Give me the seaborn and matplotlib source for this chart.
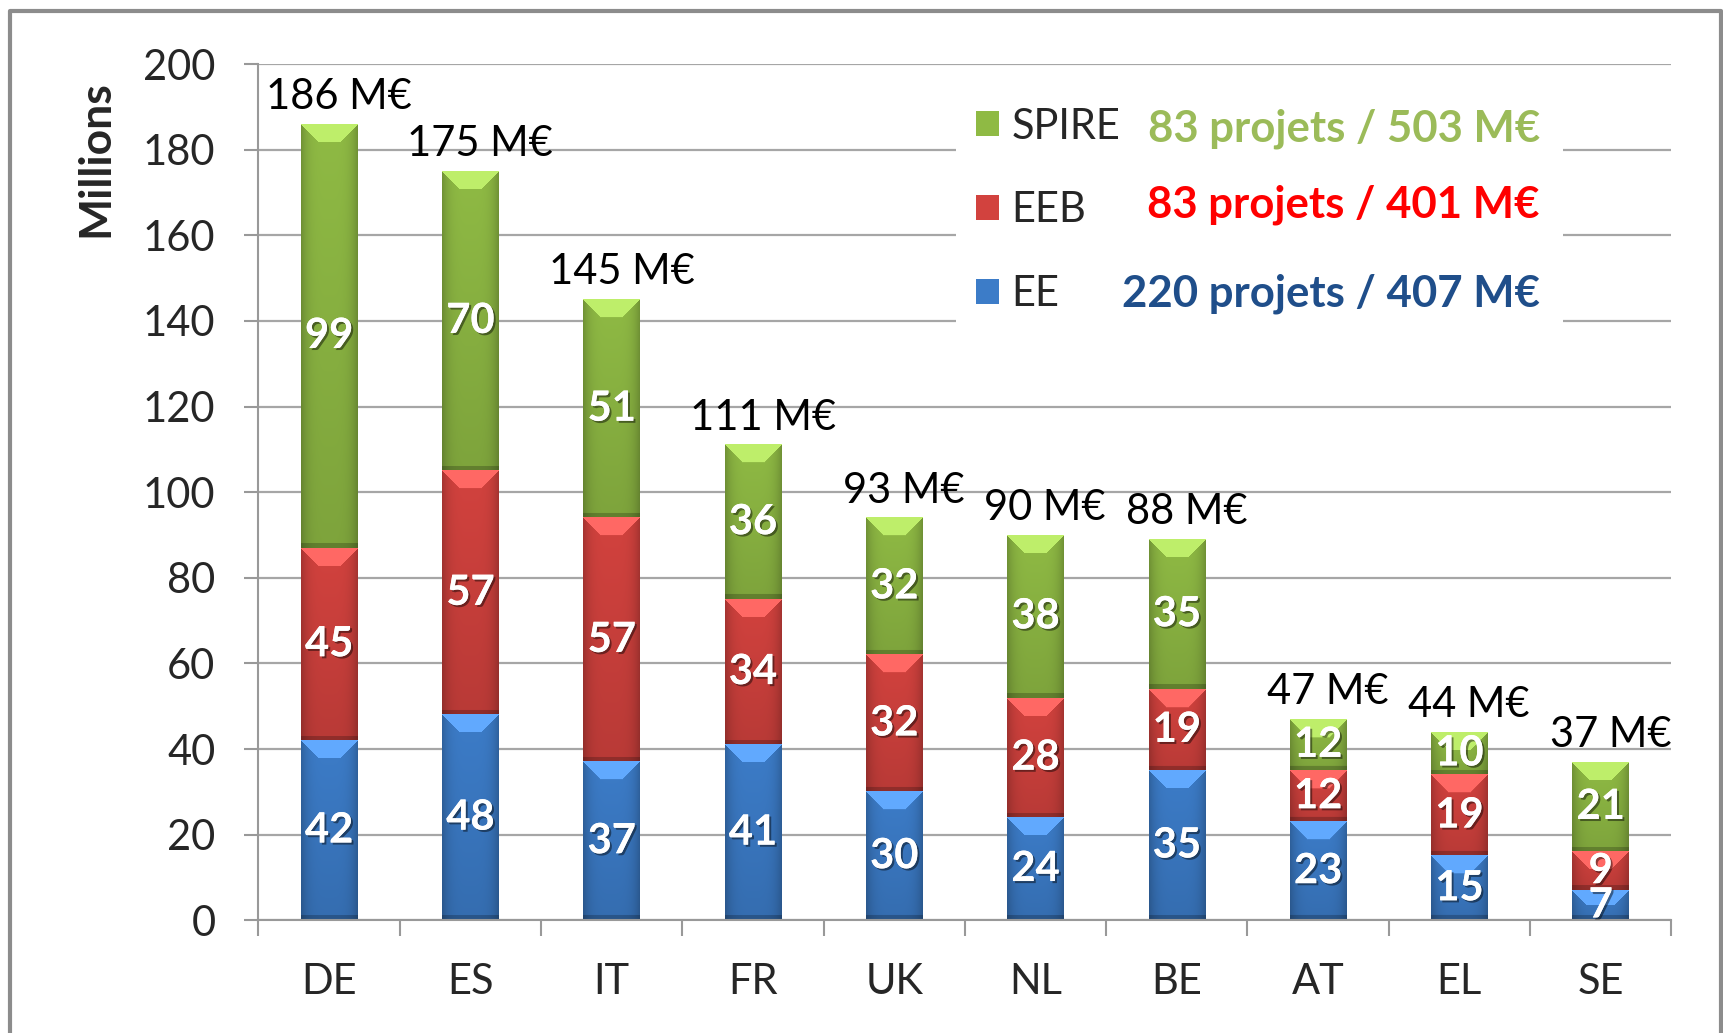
import numpy as np
import pandas as pd
import seaborn as sns
import matplotlib.pyplot as plt
import matplotlib.patheffects as pe
from matplotlib.colors import to_rgb
from matplotlib.lines import Line2D
from matplotlib.patches import Patch, Rectangle

# data (millions of euros)
countries = ["DE", "ES", "IT", "FR", "UK", "NL", "BE", "AT", "EL", "SE"]
ee = [42, 48, 37, 41, 30, 24, 35, 23, 15, 7]
eeb = [45, 57, 57, 34, 32, 28, 19, 12, 19, 9]
spire = [99, 70, 51, 36, 32, 38, 35, 12, 10, 21]
totals = [186, 175, 145, 111, 93, 90, 88, 47, 44, 37]

series_names = ["EE", "EEB", "SPIRE"]
series_summary = ["220 projets / 407 M€", "83 projets / 401 M€", "83 projets / 503 M€"]
summary_colors = ["#1F4E8A", "#FF0000", "#9BBB59"]
bar_colors = ["#3C7CC8", "#D2423E", "#8FBA44"]
y_ticks = list(range(0, 201, 20))

sns.set_style("white")
plt.rcParams["font.family"] = ["Lato", "DejaVu Sans"]

fig, ax = plt.subplots(figsize=(17.23, 10.33), dpi=100)
fig.subplots_adjust(left=0.150, right=0.970, bottom=0.109, top=0.938)

df = pd.DataFrame({"country": countries, "EE": ee, "EEB": eeb, "SPIRE": spire})
df["cum_EE"] = df["EE"]
df["cum_EEB"] = df["EE"] + df["EEB"]
df["cum_SPIRE"] = df["cum_EEB"] + df["SPIRE"]

# draw back to front: each layer hides the lower part of the previous one
for name, color in zip(series_names[::-1], bar_colors[::-1]):
    sns.barplot(data=df, x="country", y="cum_" + name, color=color,
                saturation=1, width=0.4, linewidth=0, ax=ax)

ax.set_xlim(-0.5, len(countries) - 0.5)
ax.set_ylim(0, 200)


def shade(patch, lo, hi, color):
    # bevelled look like the office chart: light top, darker sides and bottom
    x0 = patch.get_x()
    w = patch.get_width()
    px0, py0 = ax.transData.transform((x0, lo))
    px1, py1 = ax.transData.transform((x0 + w, hi))
    W = max(int(round(px1 - px0)), 2)
    H = max(int(round(py1 - py0)), 2)
    base = np.array(to_rgb(color))
    xx = (np.arange(W) + 0.5) / W
    side = 1 - 0.22 * np.abs(2 * xx - 1) ** 4
    vert = 1 - 0.12 * (np.arange(H) / H)
    img = np.ones((H, W, 3)) * base
    img *= (vert[:, None] * side[None, :])[..., None]
    light = np.clip(base * 1.12 + 0.12, 0, 1)
    d = min(18, H // 2)
    for r in range(d):
        img[r, r:W - r] = light
    nb = min(5, H // 4)
    if nb > 0:
        img[H - nb:] *= 0.78
    ax.imshow(np.clip(img, 0, 1), extent=(x0, x0 + w, lo, hi), aspect="auto",
              interpolation="bilinear", zorder=2)


n = len(countries)
layers = [("SPIRE", df["cum_EEB"], df["cum_SPIRE"], spire, bar_colors[2]),
          ("EEB", df["cum_EE"], df["cum_EEB"], eeb, bar_colors[1]),
          ("EE", [0] * n, df["cum_EE"], ee, bar_colors[0])]
shadow = [pe.withSimplePatchShadow(offset=(1.5, -1.5), shadow_rgbFace="black", alpha=0.45),
          pe.Normal()]
for k, (name, lows, highs, vals, color) in enumerate(layers):
    for j in range(n):
        patch = ax.patches[k * n + j]
        lo, hi = lows[j], highs[j]
        shade(patch, lo, hi, color)
        cx = patch.get_x() + patch.get_width() / 2
        ax.text(cx, (lo + hi) / 2, str(vals[j]), ha="center", va="center",
                color="white", fontsize=30, fontweight="bold", zorder=4,
                path_effects=shadow)

ax.set_xlim(-0.5, len(countries) - 0.5)
ax.set_ylim(0, 200)

# totals above the bars
for j in range(n):
    patch = ax.patches[j]
    cx = patch.get_x() + patch.get_width() / 2
    ax.annotate(f"{totals[j]} M€", (cx, df["cum_SPIRE"][j]), xytext=(7, 6),
                textcoords="offset points", ha="center", va="bottom",
                fontsize=30, color="black", zorder=5)

# axes styling
ax.set_axisbelow(True)
ax.yaxis.grid(True, color="#a6a6a6", linewidth=1.6)
ax.xaxis.grid(False)
sns.despine(ax=ax)
for side_name in ["left", "bottom"]:
    ax.spines[side_name].set_color("#999999")
    ax.spines[side_name].set_linewidth(1.5)

ax.set_yticks(y_ticks)
ax.tick_params(axis="y", left=True, length=10, width=1.5, color="#999999",
               pad=21, labelsize=30, direction="out")
ax.set_xticks(np.arange(-0.5, n, 1), minor=True)
ax.tick_params(axis="x", which="major", length=0, pad=31, labelsize=30)
ax.tick_params(axis="x", which="minor", bottom=True, length=11.5, width=1.5,
               color="#999999", direction="out")
ax.set_xlabel("")
ax.set_ylabel("Millions", fontsize=32, fontweight="bold")
ax.yaxis.set_label_coords(-0.101, 0.890)

# legend block with its white background and the per-programme summary
ax.add_patch(Rectangle((0.494, 0.65), 0.429, 0.30, transform=ax.transAxes,
                       facecolor="white", edgecolor="none", zorder=1.2))
handles = [Patch(facecolor=c, edgecolor="none") for c in bar_colors][::-1]
ax.legend(handles, series_names[::-1], loc="center left",
          bbox_to_anchor=(0.508, 0.829), frameon=False, fontsize=30,
          handlelength=0.55, handleheight=0.55, handletextpad=0.3,
          labelspacing=1.1, borderpad=0, borderaxespad=0)
row_y = [0.732, 0.836, 0.9245]
for txt, c, yy in zip(series_summary, summary_colors, row_y):
    ax.text(0.907, yy, txt, transform=ax.transAxes, ha="right", va="center",
            fontsize=31.5, fontweight="bold", color=c, zorder=5)

# outer frame of the pasted chart
fx0, fx1, fy1 = 10 / 1723, 1721 / 1723, 1 - 11 / 1033
fig.add_artist(Line2D([fx0, fx0, fx1, fx1], [0, fy1, fy1, 0],
                      transform=fig.transFigure, color="#8c8c8c", lw=3))

fig.savefig("out.png", dpi=100)
